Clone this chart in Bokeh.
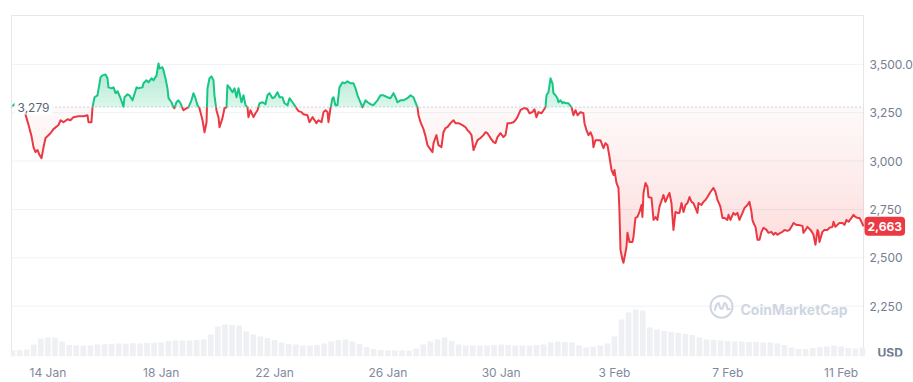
from datetime import datetime, timezone
import math
from bokeh.plotting import figure
from bokeh.models import Range1d, FixedTicker, Label
from bokeh.embed import file_html
from bokeh.resources import INLINE

# ---------------- data ----------------
start_time = datetime(2025, 1, 12, 18, 0, tzinfo=timezone.utc)

hours = [
    0.0, 3.4, 6.8, 9.3, 11.9, 13.6, 16.1, 17.8, 19.5, 21.2,
    22.9, 24.6, 26.3, 28.0, 32.2, 34.7, 39.0, 40.7, 43.2, 46.6,
    49.1, 51.7, 55.9, 60.2, 63.5, 64.4, 66.9, 67.8, 69.5, 72.0,
    74.6, 76.2, 78.8, 80.5, 81.3, 83.9, 85.6, 87.3, 89.0, 91.5,
    94.0, 94.9, 97.4, 99.1, 101.7, 102.5, 105.1, 106.7, 110.1, 111.0,
    113.5, 115.2, 117.8, 119.5, 122.0, 123.7, 124.5, 127.1, 127.9, 129.6,
    131.3, 132.2, 134.7, 136.4, 137.2, 138.9, 140.6, 142.3, 144.0, 144.9,
    147.4, 149.1, 151.6, 153.3, 155.0, 156.7, 158.4, 161.0, 162.7, 164.4,
    165.2, 166.9, 168.6, 170.3, 171.1, 172.8, 174.5, 175.4, 177.9, 179.6,
    181.3, 182.1, 183.8, 186.4, 188.1, 189.8, 191.5, 194.0, 195.7, 197.4,
    199.1, 199.9, 201.6, 204.2, 205.9, 207.6, 209.3, 211.8, 214.3, 216.0,
    217.7, 220.3, 222.0, 224.5, 226.2, 228.7, 230.4, 233.0, 234.7, 237.2,
    238.9, 240.6, 242.3, 244.8, 246.5, 249.9, 251.6, 254.2, 255.9, 257.5,
    259.2, 261.8, 263.5, 265.2, 266.9, 267.7, 269.4, 271.1, 272.0, 273.6,
    275.3, 277.0, 279.6, 281.3, 283.8, 286.4, 288.9, 290.6, 292.3, 294.8,
    296.5, 299.1, 300.8, 303.3, 305.8, 309.2, 311.8, 314.3, 317.7, 320.2,
    322.8, 324.5, 326.2, 328.7, 331.3, 334.6, 337.2, 339.7, 341.4, 343.1,
    344.0, 345.7, 348.2, 349.9, 351.6, 353.3, 355.8, 356.7, 359.2, 360.9,
    363.4, 365.1, 366.8, 368.5, 371.1, 373.6, 375.3, 377.9, 381.2, 383.8,
    385.5, 387.2, 388.9, 390.6, 392.3, 394.0, 396.5, 399.0, 400.7, 402.4,
    405.0, 407.5, 409.2, 410.9, 413.4, 416.0, 417.7, 419.4, 421.9, 424.4,
    426.1, 427.8, 430.4, 432.9, 434.6, 436.3, 438.0, 440.5, 442.2, 443.9,
    445.6, 448.2, 449.9, 451.6, 452.4, 454.1, 455.8, 457.5, 458.3, 460.0,
    461.7, 462.6, 464.3, 466.0, 466.8, 469.3, 471.0, 473.6, 475.3, 477.0,
    478.7, 481.2, 483.7, 484.6, 486.3, 488.0, 489.7, 491.4, 492.2, 493.9,
    495.6, 498.1, 500.7, 502.4, 504.1, 505.8, 507.5, 509.2, 510.0, 511.7,
    513.4, 514.2, 515.1, 516.8, 517.6, 519.3, 520.2, 521.0, 522.7, 525.3,
    526.1, 527.8, 529.5, 531.2, 532.9, 533.7, 534.6, 536.3, 538.0, 538.8,
    541.4, 543.1, 544.8, 546.4, 548.1, 550.7, 551.5, 553.2, 554.9, 556.6,
    558.3, 560.0, 561.7, 563.4, 565.1, 566.8, 568.5, 570.2, 571.9, 573.6,
    575.3, 576.9, 578.6, 580.3, 581.2, 583.7, 585.4, 587.1, 588.8, 591.3,
    593.9, 595.6, 597.3, 598.1, 599.8, 601.5, 603.2, 605.7, 606.6, 608.3,
    610.8, 612.5, 614.2, 615.9, 618.5, 620.2, 622.7, 624.4, 626.1, 626.9,
    627.8, 629.5, 631.2, 632.9, 634.6, 636.3, 638.8, 640.5, 643.0, 644.7,
    646.4, 648.1, 650.6, 652.3, 654.0, 656.6, 658.3, 660.8, 661.7, 664.2,
    665.9, 669.3, 670.1, 671.8, 673.5, 676.1, 677.8, 678.6, 680.3, 682.0,
    682.8, 683.7, 686.2, 687.9, 690.5, 692.2, 694.7, 695.6, 697.2, 698.9,
    700.6, 703.2, 704.9, 706.6, 708.3, 710.8, 712.5, 714.2, 715.9, 717.6,
    719.3, 721.0,
]

prices = [
    3284, 3304, 3309, 3278, 3222, 3186, 3129, 3072, 3046, 3057,
    3031, 3015, 3072, 3119, 3144, 3165, 3186, 3211, 3201, 3216,
    3211, 3227, 3232, 3232, 3237, 3201, 3201, 3278, 3330, 3340,
    3433, 3443, 3448, 3428, 3381, 3376, 3381, 3351, 3361, 3325,
    3281, 3330, 3345, 3340, 3314, 3330, 3381, 3376, 3381, 3402,
    3418, 3407, 3428, 3418, 3443, 3505, 3479, 3485, 3469, 3428,
    3376, 3325, 3304, 3278, 3273, 3304, 3314, 3299, 3273, 3263,
    3273, 3278, 3314, 3351, 3325, 3289, 3273, 3211, 3149, 3201,
    3376, 3428, 3438, 3418, 3340, 3263, 3227, 3175, 3222, 3273,
    3278, 3392, 3381, 3356, 3376, 3330, 3376, 3304, 3340, 3289,
    3278, 3227, 3263, 3227, 3247, 3263, 3299, 3304, 3294, 3340,
    3351, 3325, 3330, 3356, 3330, 3330, 3299, 3289, 3325, 3304,
    3289, 3273, 3258, 3253, 3242, 3237, 3201, 3227, 3211, 3196,
    3211, 3201, 3253, 3263, 3253, 3201, 3273, 3325, 3330, 3289,
    3289, 3381, 3407, 3402, 3412, 3402, 3402, 3376, 3340, 3304,
    3278, 3314, 3304, 3294, 3289, 3314, 3340, 3340, 3330, 3325,
    3351, 3330, 3304, 3314, 3314, 3325, 3340, 3330, 3304, 3278,
    3237, 3201, 3165, 3129, 3082, 3067, 3046, 3093, 3134, 3082,
    3072, 3149, 3170, 3175, 3196, 3211, 3196, 3196, 3186, 3175,
    3160, 3149, 3134, 3057, 3082, 3108, 3119, 3134, 3149, 3144,
    3119, 3098, 3093, 3124, 3144, 3124, 3134, 3196, 3196, 3201,
    3211, 3227, 3263, 3273, 3273, 3268, 3247, 3253, 3268, 3227,
    3253, 3247, 3263, 3278, 3340, 3356, 3428, 3402, 3351, 3340,
    3325, 3304, 3314, 3299, 3304, 3299, 3299, 3278, 3237, 3263,
    3237, 3253, 3247, 3196, 3160, 3134, 3149, 3124, 3072, 3108,
    3108, 3108, 3067, 3093, 3082, 3021, 2954, 2928, 2954, 2887,
    2861, 2747, 2541, 2490, 2474, 2526, 2557, 2629, 2582, 2582,
    2608, 2706, 2711, 2737, 2773, 2711, 2835, 2887, 2866, 2814,
    2809, 2696, 2711, 2696, 2763, 2809, 2825, 2789, 2814, 2835,
    2783, 2644, 2737, 2732, 2732, 2783, 2737, 2773, 2783, 2814,
    2789, 2783, 2758, 2732, 2783, 2773, 2789, 2799, 2814, 2840,
    2861, 2840, 2799, 2789, 2763, 2706, 2706, 2696, 2722, 2696,
    2732, 2722, 2732, 2696, 2732, 2758, 2773, 2789, 2737, 2696,
    2680, 2660, 2593, 2593, 2634, 2655, 2644, 2629, 2634, 2619,
    2629, 2619, 2629, 2634, 2644, 2639, 2644, 2670, 2680, 2670,
    2670, 2665, 2629, 2644, 2660, 2644, 2629, 2619, 2567, 2644,
    2634, 2582, 2634, 2644, 2644, 2655, 2660, 2686, 2660, 2670,
    2680, 2680, 2670, 2696, 2686, 2706, 2722, 2711, 2706, 2706,
    2686, 2663,
]

volume_step_hours = 6
volumes_bn = [
    7.7, 8.1, 9.0, 15.4, 23.0, 24.3, 24.0, 19.2, 14.7, 14.1,
    14.0, 14.1, 15.2, 15.6, 16.4, 16.6, 16.2, 16.8, 16.6, 17.2,
    17.6, 18.0, 19.8, 20.5, 20.3, 20.6, 21.0, 21.6, 28.2, 38.4,
    41.0, 40.3, 39.7, 32.0, 28.2, 25.6, 23.7, 21.1, 17.9, 16.0,
    15.2, 14.1, 14.0, 14.7, 16.6, 19.2, 21.1, 21.8, 19.2, 16.0,
    12.2, 9.6, 8.3, 7.7, 7.6, 7.7, 7.8, 10.2, 15.4, 19.2,
    21.8, 24.3, 19.8, 15.4, 14.1, 14.0, 14.1, 14.2, 14.7, 15.4,
    14.7, 14.1, 14.0, 14.1, 14.7, 15.4, 17.9, 19.2, 18.6, 17.9,
    14.1, 11.5, 12.8, 14.1, 16.6, 25.6, 47.4, 56.3, 60.2, 58.9,
    37.1, 34.6, 32.6, 31.4, 30.1, 28.8, 27.5, 24.3, 21.8, 21.1,
    20.5, 19.8, 19.2, 19.2, 18.6, 18.5, 17.9, 17.9, 16.6, 14.7,
    11.5, 9.6, 9.6, 10.9, 12.2, 12.8, 14.1, 12.8, 10.9, 10.2,
    11.5,
]

baseline_price = 3279

tick_dates = ["2025-01-14", "2025-01-18", "2025-01-22", "2025-01-26",
              "2025-01-30", "2025-02-03", "2025-02-07", "2025-02-11"]
tick_labels = ["14 Jan", "18 Jan", "22 Jan", "26 Jan",
               "30 Jan", "3 Feb", "7 Feb", "11 Feb"]

price_ticks = [2250, 2500, 2750, 3000, 3250, 3500]
price_tick_labels = ["2,250", "2,500", "2,750", "3,000", "3,250", "3,500.0"]

assert len(hours) == len(prices)

# ---------------- styling ----------------
GREEN = "#16c784"
RED = "#ea3943"
GRID = "#eff2f5"
BORDER = "#e4e7ec"
TICK_TEXT = "#808a9d"
FONT = "Inter"
WM = "#cfd6e2"

EPOCH = datetime(1970, 1, 1, tzinfo=timezone.utc)
HOUR = 3600000.0


def to_ms(dt):
    return (dt - EPOCH).total_seconds() * 1000.0


T0 = to_ms(start_time)
t = [T0 + h * HOUR for h in hours]
vol_t = [T0 + i * volume_step_hours * HOUR for i in range(len(volumes_bn))]

# layout: frame spans x 10..913, y 14..357; the price data ends 50px before the right edge
MS_PER_PX = (t[-1] - t[0]) / 851.0
X_START = t[0] - 2 * MS_PER_PX
X_END = t[-1] + 50 * MS_PER_PX
PRICE_PER_PX = 1000.0 / 194.0
Y_START = 3500 - (357 - 64) * PRICE_PER_PX
Y_END = 3500 - (14 - 64) * PRICE_PER_PX
X_EDGE = t[0] - 1 * MS_PER_PX          # left border line
Y_EDGE = 3500 - (15 - 64) * PRICE_PER_PX  # top border line

p = figure(width=913, height=382, x_axis_type="datetime", y_axis_location=None,
           x_range=Range1d(X_START, X_END), y_range=Range1d(Y_START, Y_END),
           output_backend="svg", toolbar_location=None,
           min_border_left=10, min_border_right=0, min_border_top=14, min_border_bottom=25,
           background_fill_color="white", border_fill_color="white",
           outline_line_color=None)
p.extra_y_ranges = {"vol": Range1d(0, 437)}

tick_ms = [int(to_ms(datetime.fromisoformat(d).replace(tzinfo=timezone.utc))) for d in tick_dates]
p.xaxis.ticker = FixedTicker(ticks=tick_ms)
p.xaxis.major_label_overrides = {m: s for m, s in zip(tick_ms, tick_labels)}
p.xaxis.axis_line_color = None
p.xaxis.major_tick_line_color = None
p.xaxis.minor_tick_line_color = None
p.xaxis.major_tick_out = 0
p.xaxis.major_tick_in = 0
p.xaxis.minor_tick_out = 0
p.xaxis.major_label_text_font = FONT
p.xaxis.major_label_text_font_size = "12px"
p.xaxis.major_label_text_color = TICK_TEXT
p.xaxis.major_label_standoff = 8

p.xgrid.visible = False
p.ygrid.visible = False

# horizontal grid lines (stop at the price-axis edge)
p.segment(x0=[X_EDGE] * len(price_ticks), x1=[t[-1]] * len(price_ticks),
          y0=price_ticks, y1=price_ticks, line_color=GRID, line_width=1)
# chart border: top, left, right
p.segment(x0=[X_EDGE, X_EDGE, t[-1]], x1=[t[-1], X_EDGE, t[-1]],
          y0=[Y_EDGE, Y_EDGE, Y_EDGE], y1=[Y_EDGE, Y_START, Y_START],
          line_color=BORDER, line_width=1)

# volume
p.vbar(x=vol_t, top=volumes_bn, width=volume_step_hours * HOUR * 0.8,
       y_range_name="vol", fill_color="#eef0f4", line_color=None)

# split the price line at the baseline
at, ap = [], []
for i in range(len(prices)):
    if i > 0:
        p0, p1 = prices[i - 1], prices[i]
        if (p0 - baseline_price) * (p1 - baseline_price) < 0:
            f = (baseline_price - p0) / (p1 - p0)
            at.append(t[i - 1] + f * (t[i] - t[i - 1]))
            ap.append(baseline_price)
    at.append(t[i])
    ap.append(prices[i])
n = len(ap)
green_y = [v if v >= baseline_price else math.nan for v in ap]
red_y = [v if v <= baseline_price else math.nan for v in ap]

# green gradient fill (stacked translucent layers)
top = max(prices)
g_layers = 9
for k in range(g_layers):
    a = baseline_price + (top - baseline_price) * k / g_layers
    p.varea(x=at, y1=[a] * n, y2=[max(v, a) for v in ap],
            fill_color=GREEN, fill_alpha=0.17 if k == 0 else 0.028)

# red gradient fill
low = min(prices)
r_layers = 16
for k in range(r_layers):
    b = baseline_price - (baseline_price - low) * k / r_layers
    p.varea(x=at, y1=[min(v, b) for v in ap], y2=[b] * n,
            fill_color=RED, fill_alpha=0.03 if k == 0 else 0.011)

p.line(at, green_y, line_color=GREEN, line_width=2, line_join="round")
p.line(at, red_y, line_color=RED, line_width=2, line_join="round")

# baseline (dotted) up to the axis edge
p.segment(x0=[X_EDGE], x1=[t[-1]], y0=[baseline_price], y1=[baseline_price],
          line_color="#9aa3b3", line_width=1, line_dash="1 3")

p.add_layout(Label(x=t[0], y=baseline_price, x_offset=2, text=f"{baseline_price:,}",
                   text_font=FONT, text_font_size="12px", text_color="#58667e",
                   text_align="left", text_baseline="middle",
                   background_fill_color="white", background_fill_alpha=1.0, padding=3))

# price-axis tick labels
for v, s in zip(price_ticks, price_tick_labels):
    p.add_layout(Label(x=t[-1], y=v, x_offset=6, text=s,
                       text_font=FONT, text_font_size="12px", text_font_style="normal",
                       text_color="#737e92", text_align="left", text_baseline="middle"))

# last price tag
p.add_layout(Label(x=t[-1], y=prices[-1], x_offset=1, text=f"{prices[-1]:,}",
                   text_font=FONT, text_font_size="12px", text_font_style="bold",
                   text_color="white", text_align="left", text_baseline="middle",
                   background_fill_color=RED, background_fill_alpha=1.0,
                   padding=(3, 5), border_radius=4))

# currency
p.add_layout(Label(x=t[-1], y=3500 - (353 - 64) * PRICE_PER_PX, x_offset=14, text="USD",
                   text_font=FONT, text_font_size="12px", text_font_style="bold",
                   text_color="#6f7b90", text_align="left", text_baseline="middle"))


# decorative watermark (pixel terms of the frame)
def sx(px):
    return t[0] + (px - 12) * MS_PER_PX


def sy(py):
    return 3500 - (py - 64) * PRICE_PER_PX


p.add_layout(Label(x=sx(740), y=sy(310), text="CoinMarketCap",
                   text_font=FONT, text_font_size="14px", text_font_style="bold",
                   text_color=WM, text_align="left", text_baseline="middle"))
p.scatter(x=[sx(721)], y=[sy(307)], marker="circle", size=22, fill_color=None,
          line_color=WM, line_width=2)
wave = [(-7, 4), (-5, -2), (-3, -4), (-1, 2), (1, 2), (3, -4), (5, -2), (6, 3), (9, 2)]
p.line([sx(721 + dx) for dx, dy in wave], [sy(307 + dy) for dx, dy in wave],
       line_color=WM, line_width=2)

open("out.html", "w").write(file_html(p, INLINE))
